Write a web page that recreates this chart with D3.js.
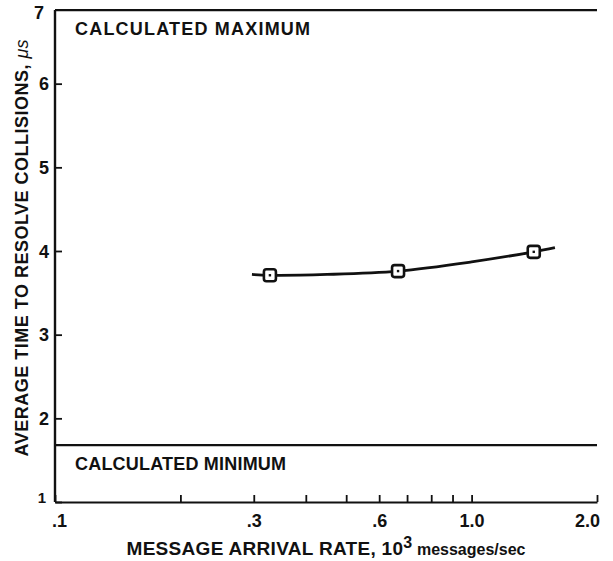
<!DOCTYPE html>
<meta charset="utf-8">
<script src="https://d3js.org/d3.v7.min.js"></script>
<style>
  body { margin: 0; background: #fff; }
  text { font-family: "Liberation Sans", Arial, sans-serif; fill: #111; }
</style>
<div id="chart"></div>
<script>
// measured points (rate in 10^3 msg/s, time in us)
var rates = [0.328, 0.666, 1.41];
var times = [3.71, 3.76, 3.99];

// fitted curve
var curveRates = [0.297, 0.328, 0.45, 0.666, 1.0, 1.41, 1.585];
var curveTimes = [3.72, 3.71, 3.72, 3.76, 3.87, 3.99, 4.04];

var calcMin = 1.68;
var calcMax = 6.88;

var xTicks = [0.1, 0.2, 0.3, 0.4, 0.5, 0.6, 0.7, 0.8, 0.9, 1.0, 2.0];
var xLabels = {0.1: ".1", 0.3: ".3", 0.6: ".6", 1.0: "1.0", 2.0: "2.0"};
var yTicks = [1, 2, 3, 4, 5, 6];

var W = 613, H = 561;
var svg = d3.select("#chart").append("svg")
    .attr("width", W).attr("height", H);

var x = d3.scaleLog().domain([0.1, 2.0]).range([55, 597]);
var y = d3.scaleLinear().domain([1, 7]).range([502, 0]);

// x axis, ticks pointing inwards
var xAxis = svg.append("g")
    .attr("transform", "translate(0," + y(1) + ")")
    .call(d3.axisBottom(x).tickValues(xTicks).tickSizeInner(-7).tickSizeOuter(0)
        .tickFormat(function (d) { return xLabels[d] || ""; }));
xAxis.select(".domain").attr("stroke-width", 2.2).attr("stroke", "#111");
xAxis.selectAll(".tick line").attr("stroke-width", 1.8).attr("stroke", "#111");
xAxis.selectAll(".tick text")
    .attr("y", 12).attr("font-size", 18).attr("font-weight", "bold")
    .attr("dx", function (d) { return d === 2.0 ? -10 : (d === 0.1 ? 4 : 0); });

// y axis
var yAxis = svg.append("g")
    .attr("transform", "translate(" + x(0.1) + ",0)")
    .call(d3.axisLeft(y).tickValues(yTicks).tickSizeInner(-7).tickSizeOuter(0)
        .tickFormat(d3.format("d")));
yAxis.select(".domain").remove();
yAxis.selectAll(".tick line").attr("stroke-width", 1.8).attr("stroke", "#111");
yAxis.selectAll(".tick text")
    .attr("x", -6).attr("font-weight", "bold")
    .attr("dy", function (d) { return d === 1 ? "0.05em" : "0.35em"; })
    .attr("dx", function (d) { return d === 1 ? -3 : 0; })
    .attr("font-size", function (d) { return d === 1 ? 15 : 18; });

svg.append("line")
    .attr("x1", x(0.1)).attr("x2", x(0.1))
    .attr("y1", y(calcMax)).attr("y2", y(1))
    .attr("stroke", "#111").attr("stroke-width", 2.4);

svg.append("text")
    .attr("x", x(0.1) - 11).attr("y", y(calcMax) + 9)
    .attr("text-anchor", "end")
    .attr("font-size", 18).attr("font-weight", "bold")
    .text("7");

// calculated limits
[calcMax, calcMin].forEach(function (v) {
  svg.append("line")
      .attr("x1", x(0.1)).attr("x2", x(2.0))
      .attr("y1", y(v)).attr("y2", y(v))
      .attr("stroke", "#111").attr("stroke-width", 2.2);
});

svg.append("text")
    .attr("x", 75).attr("y", y(calcMax) + 25)
    .attr("font-size", 18).attr("font-weight", "bold").attr("letter-spacing", 1.2)
    .text("CALCULATED MAXIMUM");

svg.append("text")
    .attr("x", 75).attr("y", y(calcMin) + 25)
    .attr("font-size", 18).attr("font-weight", "bold").attr("letter-spacing", 0.2)
    .text("CALCULATED MINIMUM");

// curve
var curveData = curveRates.map(function (r, i) { return [r, curveTimes[i]]; });
svg.append("path")
    .datum(curveData)
    .attr("fill", "none").attr("stroke", "#111").attr("stroke-width", 2.8)
    .attr("d", d3.line()
        .x(function (d) { return x(d[0]); })
        .y(function (d) { return y(d[1]); })
        .curve(d3.curveCatmullRom.alpha(0.5)));

// square markers
var pts = rates.map(function (r, i) { return [r, times[i]]; });
var g = svg.selectAll(".pt").data(pts).enter().append("g")
    .attr("transform", function (d) { return "translate(" + x(d[0]) + "," + y(d[1]) + ")"; });
g.append("rect")
    .attr("x", -6).attr("y", -6).attr("width", 12).attr("height", 12)
    .attr("rx", 2.5)
    .attr("fill", "#fff").attr("stroke", "#111").attr("stroke-width", 2.6);
g.append("rect")
    .attr("x", -1.2).attr("y", -1.2).attr("width", 2.4).attr("height", 2.4)
    .attr("fill", "#111");

// axis titles
svg.append("text")
    .attr("transform", "translate(28," + 248 + ") rotate(-90)")
    .attr("text-anchor", "middle")
    .attr("font-size", 18).attr("font-weight", "bold").attr("letter-spacing", 0.5)
    .text("AVERAGE TIME TO RESOLVE COLLISIONS, ")
    .append("tspan").attr("font-style", "italic").attr("font-weight", "normal")
    .attr("letter-spacing", 0).text("\u03bcs");

var xt = svg.append("text")
    .attr("x", 326).attr("y", 555)
    .attr("text-anchor", "middle")
    .attr("font-size", 19).attr("font-weight", "bold").attr("letter-spacing", 0.3);
xt.append("tspan").text("MESSAGE ARRIVAL RATE, 10");
xt.append("tspan").attr("dy", -7).attr("font-size", 16).text("3");
xt.append("tspan").attr("dy", 7).attr("font-size", 16).attr("letter-spacing", 0).text(" messages/sec");
</script>
